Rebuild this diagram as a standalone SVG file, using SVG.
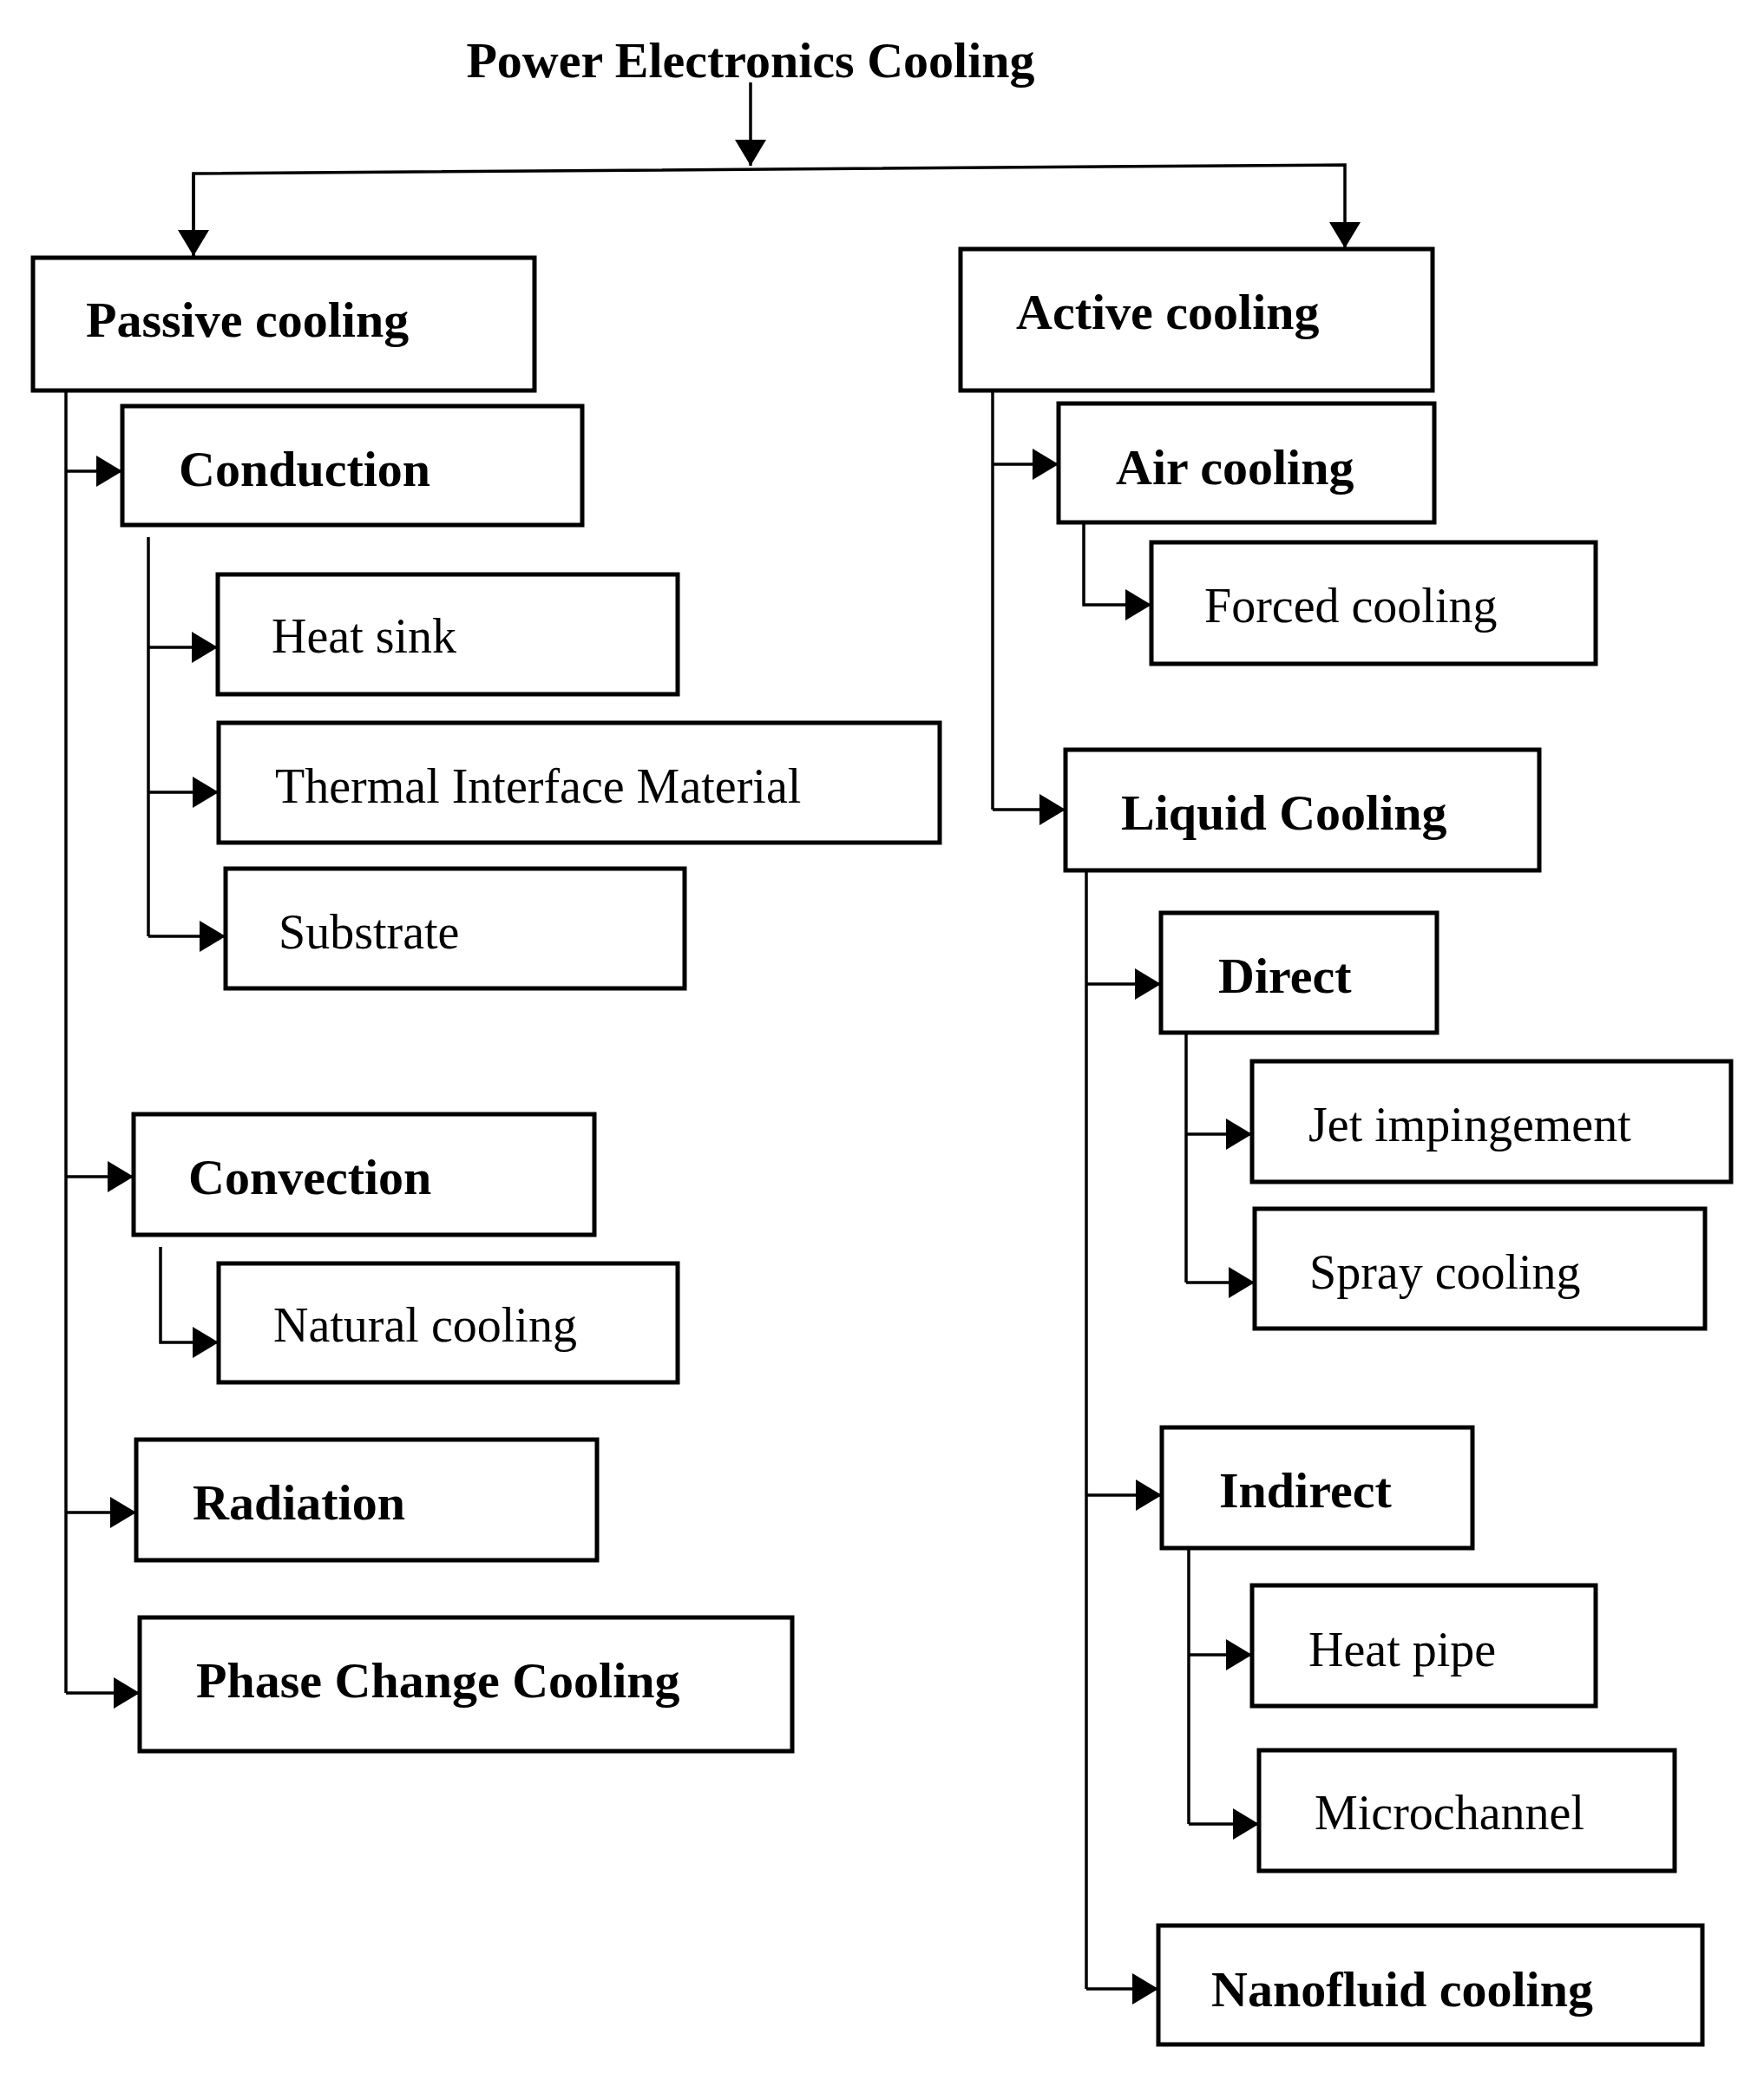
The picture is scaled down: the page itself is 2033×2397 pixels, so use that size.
<svg xmlns="http://www.w3.org/2000/svg" width="2033" height="2397" viewBox="0 0 2033 2397">
<style>
.b{fill:#fff;stroke:#000;stroke-width:5}
.c{fill:none;stroke:#000;stroke-width:3.5}
text{font-family:"Liberation Serif","Times New Roman",serif;fill:#000;font-size:56px}
.h{font-weight:bold;font-size:58px}
</style>
<defs><marker id="a" markerUnits="userSpaceOnUse" markerWidth="32" markerHeight="36" refX="30" refY="18" orient="auto"><path d="M0,0L30,18L0,36z" fill="#000"/></marker></defs>
<g id="connectors" class="c">
<path d="M865,95V191" marker-end="url(#a)"/>
<path d="M223,295V200L1550,190V286" marker-end="url(#a)"/>
<path d="M223,200V295" marker-end="url(#a)"/>
<path d="M76,450V1951"/>
<path d="M76,543H141" marker-end="url(#a)"/>
<path d="M76,1356H154" marker-end="url(#a)"/>
<path d="M76,1743H157" marker-end="url(#a)"/>
<path d="M76,1951H161" marker-end="url(#a)"/>
<path d="M171,619V1079"/>
<path d="M171,746H251" marker-end="url(#a)"/>
<path d="M171,913H252" marker-end="url(#a)"/>
<path d="M171,1079H260" marker-end="url(#a)"/>
<path d="M185,1437V1547H252" marker-end="url(#a)"/>
<path d="M1144,450V933"/>
<path d="M1144,535H1220" marker-end="url(#a)"/>
<path d="M1144,933H1228" marker-end="url(#a)"/>
<path d="M1249,602V697H1327" marker-end="url(#a)"/>
<path d="M1252,1003V2292"/>
<path d="M1252,1134H1338" marker-end="url(#a)"/>
<path d="M1252,1723H1339" marker-end="url(#a)"/>
<path d="M1252,2292H1335" marker-end="url(#a)"/>
<path d="M1367,1190V1478"/>
<path d="M1367,1307H1443" marker-end="url(#a)"/>
<path d="M1367,1478H1446" marker-end="url(#a)"/>
<path d="M1370,1784V2102"/>
<path d="M1370,1907H1443" marker-end="url(#a)"/>
<path d="M1370,2102H1451" marker-end="url(#a)"/>
</g>
<g id="title"><text class="h" x="865" y="89" text-anchor="middle">Power Electronics Cooling</text></g>
<g id="passive"><rect class="b" x="38" y="297" width="578" height="153"/><text class="h" x="99" y="388">Passive cooling</text></g>
<g id="active"><rect class="b" x="1107" y="287" width="544" height="163"/><text class="h" x="1171" y="379">Active cooling</text></g>
<g id="conduction"><rect class="b" x="141" y="468" width="530" height="137"/><text class="h" x="206" y="560">Conduction</text></g>
<g id="heatsink"><rect class="b" x="251" y="662" width="530" height="138"/><text x="313" y="752">Heat sink</text></g>
<g id="tim"><rect class="b" x="252" y="833" width="831" height="138"/><text x="317" y="925">Thermal Interface Material</text></g>
<g id="substrate"><rect class="b" x="260" y="1001" width="529" height="138"/><text x="321" y="1093">Substrate</text></g>
<g id="convection"><rect class="b" x="154" y="1284" width="531" height="139"/><text class="h" x="217" y="1376">Convection</text></g>
<g id="natural"><rect class="b" x="252" y="1456" width="529" height="137"/><text x="315" y="1546">Natural cooling</text></g>
<g id="radiation"><rect class="b" x="157" y="1659" width="531" height="139"/><text class="h" x="222" y="1751">Radiation</text></g>
<g id="phase"><rect class="b" x="161" y="1864" width="752" height="154"/><text class="h" x="226" y="1956">Phase Change Cooling</text></g>
<g id="air"><rect class="b" x="1220" y="465" width="433" height="137"/><text class="h" x="1286" y="558">Air cooling</text></g>
<g id="forced"><rect class="b" x="1327" y="625" width="512" height="140"/><text x="1388" y="717">Forced cooling</text></g>
<g id="liquid"><rect class="b" x="1228" y="864" width="546" height="139"/><text class="h" x="1292" y="956">Liquid Cooling</text></g>
<g id="direct"><rect class="b" x="1338" y="1052" width="318" height="138"/><text class="h" x="1404" y="1144">Direct</text></g>
<g id="jet"><rect class="b" x="1443" y="1223" width="552" height="139"/><text x="1508" y="1315">Jet impingement</text></g>
<g id="spray"><rect class="b" x="1446" y="1393" width="519" height="138"/><text x="1509" y="1485">Spray cooling</text></g>
<g id="indirect"><rect class="b" x="1339" y="1645" width="358" height="139"/><text class="h" x="1405" y="1737">Indirect</text></g>
<g id="heatpipe"><rect class="b" x="1443" y="1827" width="396" height="139"/><text x="1508" y="1920">Heat pipe</text></g>
<g id="micro"><rect class="b" x="1451" y="2017" width="479" height="139"/><text x="1515" y="2108">Microchannel</text></g>
<g id="nano"><rect class="b" x="1335" y="2219" width="627" height="137"/><text class="h" x="1396" y="2312">Nanofluid cooling</text></g>
</svg>
